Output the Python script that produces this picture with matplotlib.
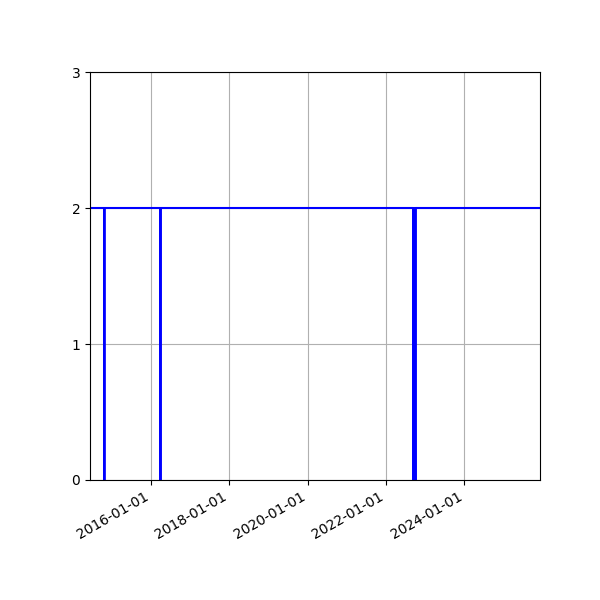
import matplotlib
matplotlib.use('Agg')
import matplotlib.pyplot as plt
import matplotlib.dates as mdates
import pandas as pd

# 数据：日期和对应的值（读自图片）
dates = ['2014-06-15', '2014-10-26', '2014-10-27', '2014-10-28',
         '2016-03-31', '2016-04-01', '2016-04-02',
         '2022-09-11', '2022-09-12', '2022-09-14', '2022-09-17', '2022-09-19',
         '2022-09-22', '2022-09-24', '2022-09-27', '2022-09-29', '2022-10-02',
         '2022-10-03',
         '2025-12-05']
values = [2, 2, 0, 2,
          2, 0, 2,
          2, 0, 2, 0, 2,
          0, 2, 0, 2, 0,
          2,
          2]

x = pd.to_datetime(dates)

fig, ax = plt.subplots(figsize=(6, 6), dpi=100)
ax.plot(x, values, color='blue', linewidth=1.5)

ax.set_xlim(x[0], x[-1])
ax.set_ylim(0, 3)
ax.set_yticks([0, 1, 2, 3])
ax.xaxis.set_major_locator(mdates.YearLocator(2))
ax.xaxis.set_major_formatter(mdates.DateFormatter('%Y-%m-%d'))
ax.grid(True)

fig.autofmt_xdate()
fig.subplots_adjust(left=0.15, right=0.9, top=0.88, bottom=0.2)
fig.savefig('out.png')
